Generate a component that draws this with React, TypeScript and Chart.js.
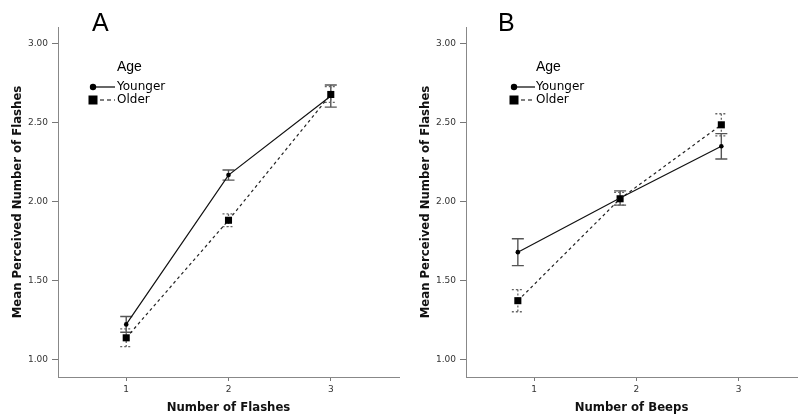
import React, { useEffect, useRef } from "react";
import { Chart, registerables } from "chart.js";

Chart.register(...registerables);

// ---------- data ----------
const groups = ["Younger", "Older"];
const legendTitle = "Age";
const yTickValues = [1.0, 1.5, 2.0, 2.5, 3.0];
const xTickValues = [1, 2, 3];

const flashesX = [1, 2, 3];
const youngerFlashes = [1.225, 2.17, 2.67];
const youngerFlashesErr = [0.05, 0.032, 0.07];
const olderFlashes = [1.14, 1.884, 2.68];
const olderFlashesErr = [0.056, 0.04, 0.05];

const beepsX = [0.84, 1.84, 2.83];
const youngerBeeps = [1.682, 2.025, 2.352];
const youngerBeepsErr = [0.085, 0.045, 0.08];
const olderBeeps = [1.375, 2.02, 2.488];
const olderBeepsErr = [0.07, 0.04, 0.07];

// ---------- plugins ----------
const errorBarsPlugin = {
  id: "errorBars",
  beforeDatasetsDraw(chart: any) {
    const { ctx } = chart;
    const xs = chart.scales.x;
    const ys = chart.scales.y;
    chart.data.datasets.forEach((ds: any) => {
      ctx.save();
      ctx.strokeStyle = ds.errorColor;
      ctx.lineWidth = ds.errorWidth;
      ctx.setLineDash(ds.errorDash || []);
      ds.data.forEach((p: any, j: number) => {
        const e = ds.errors[j];
        const px = xs.getPixelForValue(p.x);
        const top = ys.getPixelForValue(p.y + e);
        const bot = ys.getPixelForValue(p.y - e);
        const hw = 6;
        ctx.beginPath();
        ctx.moveTo(px, top);
        ctx.lineTo(px, bot);
        ctx.moveTo(px - hw, top);
        ctx.lineTo(px + hw, top);
        ctx.moveTo(px - hw, bot);
        ctx.lineTo(px + hw, bot);
        ctx.stroke();
      });
      ctx.restore();
    });
  },
};

const ageLegendPlugin = {
  id: "ageLegend",
  afterDraw(chart: any, _args: any, opts: any) {
    const { ctx, chartArea } = chart;
    const left = chartArea.left;
    ctx.save();
    ctx.fillStyle = "#000";
    ctx.textBaseline = "middle";
    ctx.textAlign = "left";
    ctx.font = '14px "Liberation Sans", Arial, sans-serif';
    ctx.fillText(opts.title, left + opts.textDx, opts.titleY);
    ctx.font = '12px "DejaVu Sans", sans-serif';
    chart.data.datasets.forEach((ds: any, i: number) => {
      const y = opts.rowY[i];
      const mx = left + opts.markerDx;
      ctx.strokeStyle = "#000";
      ctx.lineWidth = 1.2;
      if (ds.borderDash && ds.borderDash.length) {
        ctx.setLineDash([4, 3]);
        ctx.beginPath();
        ctx.moveTo(mx + 7, y);
        ctx.lineTo(left + opts.lineEndDx, y);
        ctx.stroke();
      } else {
        ctx.setLineDash([]);
        ctx.beginPath();
        ctx.moveTo(mx, y);
        ctx.lineTo(left + opts.lineEndDx, y);
        ctx.stroke();
      }
      ctx.setLineDash([]);
      if (ds.pointStyle === "rect") {
        ctx.fillRect(mx - 4.5, y - 4.5, 9, 9);
      } else {
        ctx.beginPath();
        ctx.arc(mx, y, 3.2, 0, Math.PI * 2);
        ctx.fill();
      }
      ctx.fillText(ds.label, left + opts.textDx, y);
    });
    ctx.restore();
  },
};

// ---------- panel ----------
type PanelProps = {
  left: number;
  width: number;
  xs: number[];
  younger: number[];
  youngerErr: number[];
  older: number[];
  olderErr: number[];
  xTitle: string;
  xMax: number;
  yAxisWidth: number;
  yTitlePad: number;
  legend: any;
};

function Panel(props: PanelProps) {
  const ref = useRef<HTMLCanvasElement | null>(null);
  useEffect(() => {
    if (!ref.current) return;
    const tickFont = { family: '"DejaVu Sans", sans-serif', size: 9 };
    const titleFont = { family: '"DejaVu Sans", sans-serif', size: 11.7, weight: "bold" as const };
    const chart = new Chart(ref.current, {
      type: "line",
      data: {
        datasets: [
          {
            label: groups[0],
            data: props.xs.map((x, i) => ({ x, y: props.younger[i] })),
            borderColor: "#111",
            borderWidth: 1.2,
            pointStyle: "circle",
            pointRadius: 2.3,
            pointBackgroundColor: "#000",
            pointBorderWidth: 0,
            errors: props.youngerErr,
            errorColor: "#555",
            errorWidth: 1.4,
            errorDash: [],
          } as any,
          {
            label: groups[1],
            data: props.xs.map((x, i) => ({ x, y: props.older[i] })),
            borderColor: "#222",
            borderWidth: 1.2,
            borderDash: [3, 3],
            pointStyle: "rect",
            pointRadius: 5,
            pointBackgroundColor: "#000",
            pointBorderWidth: 0,
            errors: props.olderErr,
            errorColor: "#666",
            errorWidth: 1.3,
            errorDash: [2, 2],
          } as any,
        ],
      },
      options: {
        animation: false,
        responsive: false,
        events: [],
        layout: { padding: { top: 27, left: 0, right: 0, bottom: 0 } },
        plugins: {
          legend: { display: false },
          tooltip: { enabled: false },
          ageLegend: props.legend,
        } as any,
        scales: {
          x: {
            type: "linear",
            min: 0.333,
            max: props.xMax,
            afterBuildTicks: (s: any) => {
              s.ticks = xTickValues.map((v) => ({ value: v }));
            },
            ticks: {
              font: tickFont,
              color: "#333",
              padding: 3,
              maxRotation: 0,
              autoSkip: false,
              callback: (v: any) => String(v),
            },
            grid: { drawOnChartArea: false, drawTicks: true, tickLength: 4, color: "#777" },
            border: { color: "#888", width: 1 },
            title: {
              display: true,
              text: props.xTitle,
              font: titleFont,
              color: "#111",
              padding: { top: 0, bottom: 5 },
            },
            afterFit: (s: any) => {
              s.height = 43;
            },
          },
          y: {
            type: "linear",
            min: 0.892,
            max: 3.107,
            afterBuildTicks: (s: any) => {
              s.ticks = yTickValues.map((v) => ({ value: v }));
            },
            ticks: {
              font: tickFont,
              color: "#333",
              padding: 4,
              autoSkip: false,
              callback: (v: any) => Number(v).toFixed(2),
            },
            grid: { drawOnChartArea: false, drawTicks: true, tickLength: 6, color: "#777" },
            border: { color: "#888", width: 1 },
            title: {
              display: true,
              text: "Mean Perceived Number of Flashes",
              font: titleFont,
              color: "#111",
              padding: { top: props.yTitlePad, bottom: 0 },
            },
            afterFit: (s: any) => {
              s.width = props.yAxisWidth;
            },
          },
        },
      },
      plugins: [errorBarsPlugin, ageLegendPlugin],
    } as any);
    return () => chart.destroy();
  }, []);
  return (
    <canvas
      ref={ref}
      width={props.width}
      height={420}
      style={{ position: "absolute", left: props.left, top: 0, width: props.width, height: 420 }}
    />
  );
}

export default function App() {
  const letterStyle: React.CSSProperties = {
    position: "absolute",
    top: 10,
    fontFamily: '"Liberation Sans", Arial, sans-serif',
    fontSize: 25,
    lineHeight: "25px",
    color: "#000",
  };
  return (
    <div style={{ position: "absolute", left: 0, top: 0, width: 802, height: 420, background: "#fff", overflow: "hidden" }}>
      <Panel
        left={0}
        width={404}
        xs={flashesX}
        younger={youngerFlashes}
        youngerErr={youngerFlashesErr}
        older={olderFlashes}
        olderErr={olderFlashesErr}
        xTitle="Number of Flashes"
        xMax={3.667}
        yAxisWidth={58}
        yTitlePad={11}
        legend={{ title: legendTitle, titleY: 67, rowY: [87, 100], markerDx: 35, lineEndDx: 57, textDx: 59 }}
      />
      <Panel
        left={401}
        width={401}
        xs={beepsX}
        younger={youngerBeeps}
        youngerErr={youngerBeepsErr}
        older={olderBeeps}
        olderErr={olderBeepsErr}
        xTitle="Number of Beeps"
        xMax={3.57}
        yAxisWidth={65}
        yTitlePad={18}
        legend={{ title: legendTitle, titleY: 67, rowY: [87, 100], markerDx: 48, lineEndDx: 69, textDx: 70 }}
      />
      <div style={{ ...letterStyle, left: 92 }}>A</div>
      <div style={{ ...letterStyle, left: 498 }}>B</div>
    </div>
  );
}
